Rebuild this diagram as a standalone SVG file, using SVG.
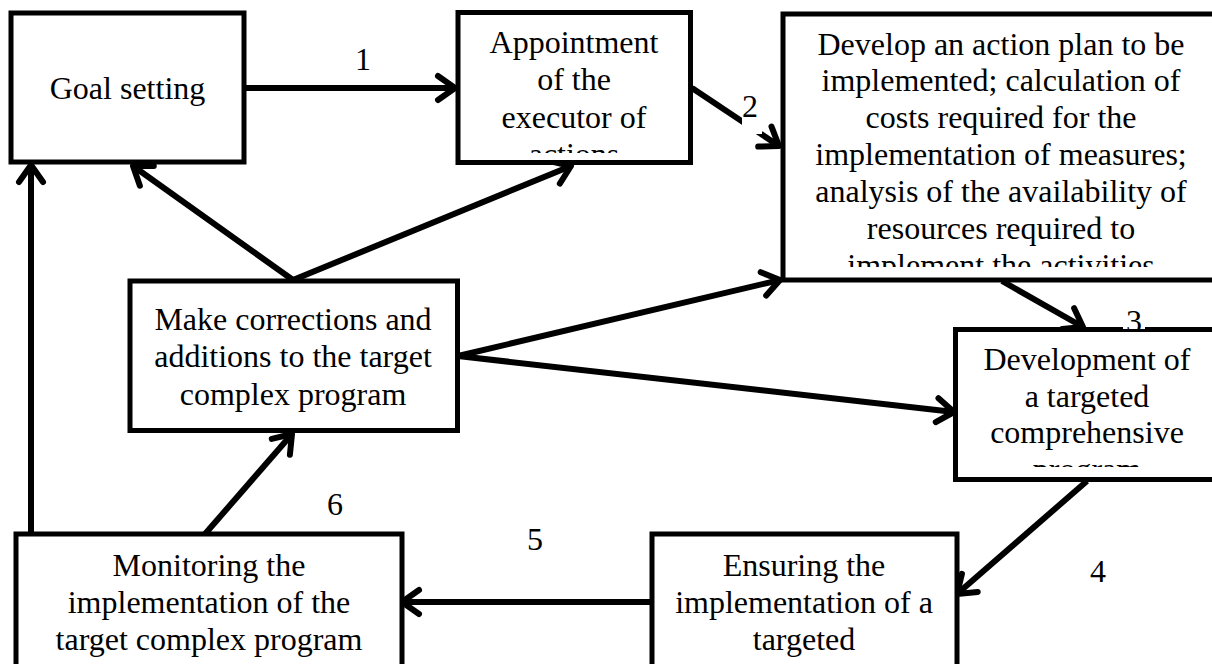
<svg xmlns="http://www.w3.org/2000/svg" width="1212" height="664" viewBox="0 0 1212 664">
<style>
.box{fill:#fff;stroke:#000;stroke-width:5}
.t{font-family:"Liberation Serif","Times New Roman",serif;font-size:32px;text-anchor:middle;fill:#000}
.c{stroke:#000;stroke-width:6;fill:none;marker-end:url(#ah)}
.lb{fill:#fff;stroke:none}
</style>
<defs>
<marker id="ah" markerUnits="userSpaceOnUse" viewBox="-22 -16 26 32" refX="0" refY="0" markerWidth="26" markerHeight="32" orient="auto">
<path d="M-17,-12 L0,0 L-17,12" fill="none" stroke="#000" stroke-width="6" stroke-linecap="round" stroke-linejoin="round"/>
</marker>
<clipPath id="clipA"><rect x="458" y="12" width="233" height="141"/></clipPath>
<clipPath id="clipB"><rect x="783" y="14" width="440" height="253"/></clipPath>
<clipPath id="clipD"><rect x="955" y="329" width="270" height="138"/></clipPath>
</defs>

<g id="connectors">
<line class="c" x1="246" y1="88" x2="455" y2="88"/>
<line class="c" x1="692" y1="88" x2="779" y2="146"/>
<line class="c" x1="1002" y1="281" x2="1083" y2="327"/>
<line class="c" x1="1087" y1="481" x2="957" y2="594"/>
<line class="c" x1="651" y1="602" x2="402" y2="602"/>
<line class="c" x1="205" y1="534" x2="292" y2="434"/>
<line class="c" x1="31" y1="534" x2="31" y2="165"/>
<line class="c" x1="293" y1="280" x2="133" y2="166"/>
<line class="c" x1="293" y1="280" x2="571" y2="166"/>
<line class="c" x1="458" y1="356" x2="780" y2="280"/>
<line class="c" x1="458" y1="356" x2="954" y2="412"/>
</g>

<g id="goal">
<rect class="box" x="11" y="13" width="233" height="149"/>
<text class="t" x="127.5" y="99">Goal setting</text>
</g>

<g id="appointment">
<rect class="box" x="458" y="12.5" width="232.5" height="150"/>
<g clip-path="url(#clipA)">
<text class="t" x="574" y="53">Appointment</text>
<text class="t" x="574" y="90">of the</text>
<text class="t" x="574" y="128">executor of</text>
<text class="t" x="574" y="165">actions</text>
</g>
</g>

<g id="plan">
<rect class="box" x="783" y="14" width="440" height="266"/>
<g clip-path="url(#clipB)">
<text class="t" x="1001" y="55">Develop an action plan to be</text>
<text class="t" x="1001" y="91">implemented; calculation of</text>
<text class="t" x="1001" y="128">costs required for the</text>
<text class="t" x="1001" y="165">implementation of measures;</text>
<text class="t" x="1001" y="202">analysis of the availability of</text>
<text class="t" x="1001" y="239">resources required to</text>
<text class="t" x="1001" y="276">implement the activities</text>
</g>
</g>

<g id="corrections">
<rect class="box" x="130" y="281" width="327.5" height="149.5"/>
<text class="t" x="293" y="330">Make corrections and</text>
<text class="t" x="293" y="367">additions to the target</text>
<text class="t" x="293" y="405">complex program</text>
</g>

<g id="development">
<rect class="box" x="955.5" y="329.5" width="270" height="150"/>
<g clip-path="url(#clipD)">
<text class="t" x="1087" y="370">Development of</text>
<text class="t" x="1087" y="407">a targeted</text>
<text class="t" x="1087" y="443">comprehensive</text>
<text class="t" x="1087" y="480">program</text>
</g>
</g>

<g id="ensuring">
<rect class="box" x="652" y="534" width="305" height="160"/>
<text class="t" x="804" y="576">Ensuring the</text>
<text class="t" x="804" y="613">implementation of a</text>
<text class="t" x="804" y="650">targeted</text>
</g>

<g id="monitoring">
<rect class="box" x="16" y="534" width="386" height="160"/>
<text class="t" x="209" y="576">Monitoring the</text>
<text class="t" x="209" y="613">implementation of the</text>
<text class="t" x="209" y="650">target complex program</text>
</g>

<g id="labels">
<text class="t" x="363" y="70">1</text>
<rect class="lb" x="742" y="96" width="20" height="38"/>
<text class="t" x="750" y="117">2</text>
<rect class="lb" x="1123" y="306" width="22" height="23"/>
<text class="t" x="1134" y="332">3</text>
<text class="t" x="1098" y="582">4</text>
<text class="t" x="535" y="550">5</text>
<text class="t" x="335" y="515">6</text>
</g>
</svg>
